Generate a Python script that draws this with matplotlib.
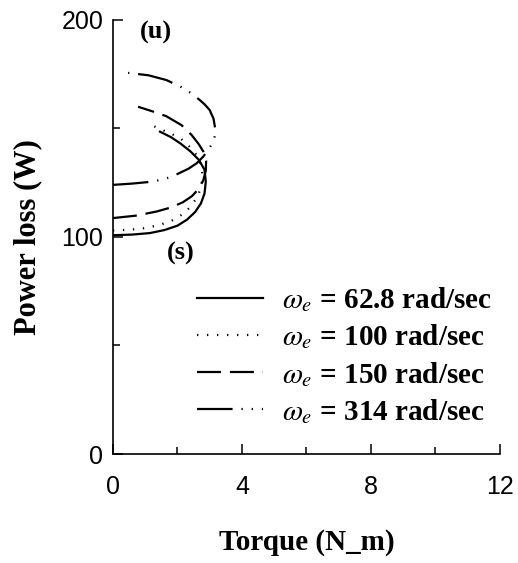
import matplotlib
matplotlib.use("Agg")
import matplotlib.pyplot as plt
from matplotlib.ticker import MultipleLocator

plt.rcParams["mathtext.fontset"] = "stix"

# Torque (N_m) / power loss (W), low branch first then upper branch
t_628 = [0, 0.6, 1.15, 1.6, 2.0, 2.3, 2.55, 2.73, 2.84, 2.88, 2.84, 2.66, 2.4, 2.1, 1.8, 1.46]
p_628 = [100.8, 101.1, 101.8, 103.2, 105.2, 108.0, 111.5, 115.5, 120.0, 125.5, 131.0, 135.6, 139.5, 143.0, 146.0, 148.5]

t_100 = [0, 0.5, 0.95, 1.45, 1.86, 2.2, 2.42, 2.62, 2.74, 2.78, 2.72, 2.56, 2.32, 2.08, 1.8, 1.55, 1.04]
p_100 = [103.0, 103.3, 104.0, 105.5, 107.8, 110.8, 114.2, 118.5, 123.0, 128.5, 133.8, 138.5, 142.5, 145.6, 147.6, 149.2, 152.5]

t_150 = [0, 0.7, 1.35, 1.8, 2.17, 2.45, 2.65, 2.8, 2.88, 2.89, 2.82, 2.66, 2.44, 2.13, 1.66, 1.2, 0.78]
p_150 = [108.7, 109.8, 111.7, 113.6, 116.0, 118.8, 122.0, 126.0, 130.5, 135.0, 139.0, 142.8, 147.0, 151.5, 155.6, 158.0, 160.0]

t_314 = [0, 0.6, 1.24, 1.66, 2.0, 2.35, 2.6, 2.8, 2.95, 3.08, 3.15, 3.17, 3.12, 3.0, 2.85, 2.7, 2.45, 2.17, 1.66, 1.1, 0.47]
p_314 = [124.0, 124.6, 125.5, 127.0, 129.0, 131.5, 134.0, 137.0, 140.0, 143.0, 146.0, 150.0, 154.5, 158.5, 161.0, 163.0, 166.0, 168.7, 172.3, 174.5, 175.6]

labels = [r"$\omega_e$ = 62.8 rad/sec", r"$\omega_e$ = 100 rad/sec",
          r"$\omega_e$ = 150 rad/sec", r"$\omega_e$ = 314 rad/sec"]

serif = ["Liberation Serif", "DejaVu Serif"]
sans = ["Liberation Sans", "DejaVu Sans"]

fig = plt.figure(figsize=(5.18, 5.63), dpi=100)
ax = fig.add_axes([0.218, 0.1936, 0.747, 0.771])

lw = 1.6
ax.plot(t_628, p_628, color="black", lw=lw, ls="-", label=labels[0])
ax.plot(t_100, p_100, color="black", lw=lw, ls=(0, (0.6, 3.9)), label=labels[1])
ax.plot(t_150, p_150, color="black", lw=lw, ls=(0, (10.8, 4)), label=labels[2])
ax.plot(t_314, p_314, color="black", lw=lw, ls=(0, (16, 4, 0.6, 4, 0.6, 4)), label=labels[3])

ax.set_xlim(0, 12)
ax.set_ylim(0, 200)
ax.xaxis.set_major_locator(MultipleLocator(4))
ax.xaxis.set_minor_locator(MultipleLocator(2))
ax.yaxis.set_major_locator(MultipleLocator(100))
ax.yaxis.set_minor_locator(MultipleLocator(50))
ax.tick_params(which="both", direction="in", width=1.1)
ax.tick_params(which="major", length=7)
ax.tick_params(which="minor", length=5)
ax.tick_params(axis="x", which="major", pad=15)
ax.tick_params(axis="y", which="major", pad=7)
for s in ["top", "right"]:
    ax.spines[s].set_visible(False)
for s in ["left", "bottom"]:
    ax.spines[s].set_linewidth(1.2)
for lab in ax.get_xticklabels() + ax.get_yticklabels():
    lab.set_family(sans)
    lab.set_fontsize(18)

ax.set_xlabel("Torque (N_m)", family=serif, fontweight="bold", fontsize=21, labelpad=22)
ax.set_ylabel("Power loss (W)", family=serif, fontweight="bold", fontsize=22, labelpad=14)

ax.text(0.84, 194, "(u)", family=serif, fontweight="bold", fontsize=19, va="center")
ax.text(1.67, 92.6, "(s)", family=serif, fontweight="bold", fontsize=19, va="center")

leg = ax.legend(loc="upper left", bbox_to_anchor=(0.217, 0.388), frameon=False,
                handlelength=2.26, handletextpad=0.65, labelspacing=0.28,
                borderpad=0, borderaxespad=0,
                prop={"family": serif, "weight": "bold", "size": 21})

fig.savefig("out.png", dpi=100)
